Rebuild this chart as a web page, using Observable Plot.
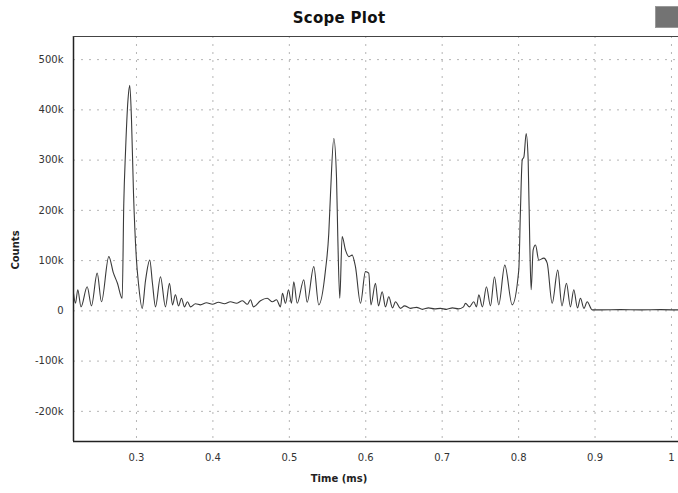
<!DOCTYPE html>
<html>
<head>
<meta charset="utf-8">
<script src="https://cdn.jsdelivr.net/npm/d3@7"></script>
<script src="https://cdn.jsdelivr.net/npm/@observablehq/plot@0.6"></script>
<style>
  html, body { margin: 0; padding: 0; background: #fff; }
  #wrap { position: relative; width: 678px; height: 493px; overflow: hidden; font-family: "DejaVu Sans", sans-serif; }
  #title { position: absolute; left: 0; width: 678px; top: 9px; text-align: center; font-size: 15px; font-weight: bold; color: #111; letter-spacing: 0.3px; }
  #btn { position: absolute; left: 655px; top: 6px; width: 26px; height: 22px; background: #737373; border: 1px solid #999; box-sizing: border-box; }
  #xlabel { position: absolute; left: 0; width: 678px; top: 473px; text-align: center; font-size: 10px; font-weight: bold; color: #222; }
  #ylabel { position: absolute; left: 15px; top: 250px; transform: translate(-50%, -50%) rotate(-90deg); font-size: 10px; font-weight: bold; color: #222; white-space: nowrap; }
  #chart { position: absolute; left: 0; top: 0; }
</style>
</head>
<body>
<div id="wrap">
  <div id="chart"></div>
  <div id="title">Scope Plot</div>
  <div id="btn"></div>
  <div id="xlabel">Time (ms)</div>
  <div id="ylabel">Counts</div>
</div>
<script>
// Time (ms)
const times = [
  0.2176, 0.2202, 0.2232, 0.2274, 0.2355, 0.2411, 0.2486, 0.2542, 0.2638, 0.2699,
  0.2751, 0.2813, 0.2834, 0.2856, 0.2889, 0.2912, 0.2935, 0.2961, 0.3000, 0.3026,
  0.3075, 0.3118, 0.3174, 0.3209, 0.3249, 0.3314, 0.3379, 0.3432, 0.3471, 0.3510,
  0.3550, 0.3589, 0.3628, 0.3667, 0.3707, 0.3772, 0.3837, 0.3916, 0.3994, 0.4073,
  0.4151, 0.4230, 0.4308, 0.4387, 0.4452, 0.4492, 0.4531, 0.4622, 0.4710, 0.4779,
  0.4832, 0.4884, 0.4910, 0.4950, 0.4989, 0.5028, 0.5058, 0.5103, 0.5189, 0.5233,
  0.5320, 0.5385, 0.5473, 0.5516, 0.5538, 0.5582, 0.5617, 0.5634, 0.5660, 0.5691,
  0.5735, 0.5778, 0.5822, 0.5865, 0.5931, 0.5996, 0.6039, 0.6068, 0.6127, 0.6166,
  0.6215, 0.6258, 0.6301, 0.6350, 0.6389, 0.6454, 0.6507, 0.6585, 0.6664, 0.6742,
  0.6821, 0.6899, 0.6978, 0.7056, 0.7135, 0.7213, 0.7279, 0.7305, 0.7357, 0.7413,
  0.7449, 0.7479, 0.7527, 0.7579, 0.7632, 0.7684, 0.7740, 0.7819, 0.7916, 0.8002,
  0.8024, 0.8047, 0.8070, 0.8099, 0.8125, 0.8146, 0.8164, 0.8190, 0.8221, 0.8264,
  0.8329, 0.8374, 0.8439, 0.8512, 0.8567, 0.8626, 0.8678, 0.8722, 0.8770, 0.8809,
  0.8855, 0.8897, 0.8962, 0.9071, 0.9333, 0.9594, 0.9856, 1.0092
];
// Counts
const counts = [
  35e3, 15e3, 42e3, 8e3, 48e3, 10e3, 75e3, 18e3, 108e3, 75e3,
  55e3, 25e3, 214e3, 314e3, 420e3, 449e3, 380e3, 234e3, 101e3, 55e3,
  5e3, 60e3, 101e3, 55e3, 8e3, 68e3, 8e3, 55e3, 12e3, 32e3,
  10e3, 25e3, 8e3, 18e3, 8e3, 14e3, 12e3, 16e3, 13e3, 17e3,
  14e3, 18e3, 15e3, 20e3, 13e3, 22e3, 8e3, 20e3, 25e3, 18e3,
  22e3, 8e3, 35e3, 15e3, 42e3, 15e3, 58e3, 15e3, 62e3, 17e3,
  88e3, 12e3, 81e3, 154e3, 230e3, 343e3, 267e3, 148e3, 25e3, 148e3,
  121e3, 108e3, 111e3, 88e3, 15e3, 78e3, 75e3, 12e3, 55e3, 10e3,
  38e3, 8e3, 28e3, 6e3, 18e3, 5e3, 10e3, 5e3, 7e3, 3e3,
  6e3, 4e3, 5e3, 3e3, 6e3, 4e3, 8e3, 15e3, 8e3, 18e3,
  8e3, 32e3, 8e3, 48e3, 10e3, 68e3, 12e3, 91e3, 12e3, 81e3,
  200e3, 300e3, 307e3, 353e3, 300e3, 134e3, 42e3, 121e3, 131e3, 101e3,
  105e3, 95e3, 15e3, 81e3, 10e3, 55e3, 8e3, 42e3, 6e3, 25e3,
  5e3, 18e3, 2e3, 2e3, 2.5e3, 2e3, 2.5e3, 2e3
];
const xTicks = [0.3, 0.4, 0.5, 0.6, 0.7, 0.8, 0.9, 1];
const yTicks = [-200e3, -100e3, 0, 100e3, 200e3, 300e3, 400e3, 500e3];
const xDomain = [0.2176, 1.0092];
const yDomain = [-260e3, 546e3];

const data = times.map((t, i) => ({t, c: counts[i]}));
const fmtY = d => d === 0 ? "0" : (d < 0 ? "-" : "") + Math.abs(d / 1000) + "k";

const chart = Plot.plot({
  width: 678,
  height: 493,
  marginLeft: 73,
  marginRight: 0,
  marginTop: 36,
  marginBottom: 52,
  style: {fontFamily: "DejaVu Sans, sans-serif", fontSize: "10px", color: "#333", background: "transparent"},
  x: {domain: xDomain},
  y: {domain: yDomain},
  marks: [
    Plot.gridX(xTicks, {stroke: "#b5b5b5", strokeOpacity: 1, strokeDasharray: "2,6"}),
    Plot.gridY(yTicks, {stroke: "#b5b5b5", strokeOpacity: 1, strokeDasharray: "2,6"}),
    Plot.line(data, {x: "t", y: "c", stroke: "#3a3a3a", strokeWidth: 1.1, curve: "monotone-x"}),
    Plot.axisX(xTicks, {tickSize: 0, tickPadding: 12, label: null, tickFormat: d => String(d), fill: "#333"}),
    Plot.axisY(yTicks, {tickSize: 0, tickPadding: 10, label: null, tickFormat: fmtY, fill: "#333"}),
    Plot.ruleX([xDomain[0]], {stroke: "#222", strokeWidth: 1.5}),
    Plot.ruleY([yDomain[0]], {stroke: "#222", strokeWidth: 1.5}),
    Plot.ruleY([yDomain[1]], {stroke: "#444", strokeWidth: 1.2})
  ]
});
document.getElementById("chart").appendChild(chart);
</script>
</body>
</html>
